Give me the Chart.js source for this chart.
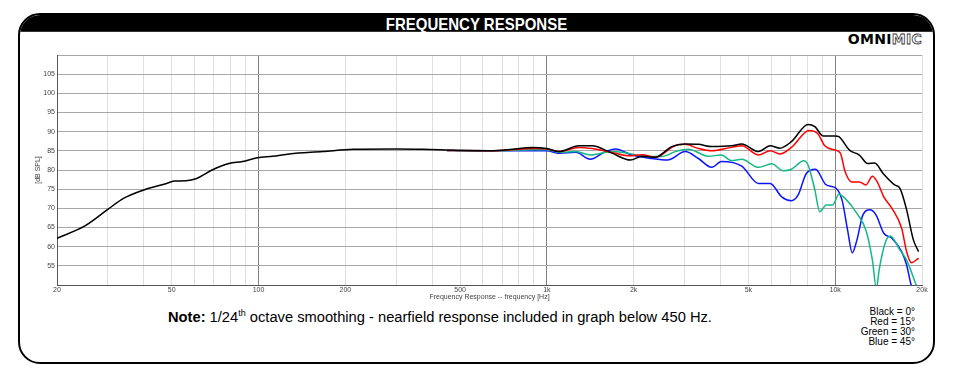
<!DOCTYPE html>
<html>
<head>
<meta charset="utf-8">
<script src="https://cdn.jsdelivr.net/npm/chart.js@4.4.0/dist/chart.umd.min.js"></script>
<style>
  body { margin: 0; background: #fff; font-family: "Liberation Sans", Arial, sans-serif; }
  #wrap { position: relative; width: 962px; height: 387px; overflow: hidden; }
  #frame { position: absolute; left: 18px; top: 13px; width: 913px; height: 347px;
           border: 2px solid #000; border-radius: 22px; overflow: hidden; }
  #bar { position: absolute; left: 0; top: 0; right: 0; height: 16px; background: #000;
         color: #fff; text-align: center; font: bold 15px "Liberation Sans Narrow", "Liberation Sans", Arial, sans-serif;
         line-height: 17px; transform: scaleY(1.1); }
  #logo { position: absolute; right: 40px; top: 31px; font: bold 14px "DejaVu Sans", sans-serif; letter-spacing: 0.3px; }
  #logo .hollow { color: #fff; -webkit-text-stroke: 0.8px #333; }
  #note { position: absolute; left: 168px; top: 309px; font-size: 14.7px; color: #000; white-space: nowrap; }
  #note sup { font-size: 9px; vertical-align: 6px; line-height: 0; }
  #legend { position: absolute; right: 47px; top: 307px; font-size: 10px; line-height: 10px; text-align: right; color: #000; }
  canvas { position: absolute; left: 0; top: 0; }
</style>
</head>
<body>
<div id="wrap">
  <div id="frame"><div id="bar">FREQUENCY RESPONSE</div></div>
  <div id="logo">OMNI<span class="hollow">MIC</span></div>
  <div id="note"><b>Note:</b> 1/24<sup>th</sup> octave smoothing - nearfield response included in graph below 450 Hz.</div>
  <div id="legend">Black = 0°<br>Red = 15°<br>Green = 30°<br>Blue = 45°</div>
  <canvas id="frChart" width="962" height="387"></canvas>
</div>
<script>
// axis ticks
const xGridValues = [20, 30, 40, 50, 60, 70, 80, 90, 100, 200, 300, 400, 500, 600, 700, 800, 900,
  1000, 2000, 3000, 4000, 5000, 6000, 7000, 8000, 9000, 10000, 20000];
const xLabelValues = [20, 50, 100, 200, 500, 1000, 2000, 5000, 10000, 20000];
const xLabels = ['20', '50', '100', '200', '500', '1k', '2k', '5k', '10k', '20k'];
const xMajor = [100, 1000, 10000];

// Black = 0 deg
const blackFreq = [20, 25, 30, 34, 40, 48, 51, 56, 61, 69, 79, 88, 99, 112, 128, 167, 213, 300, 372, 488, 635,
  759, 890, 1000, 1100, 1290, 1434, 1680, 1948, 2140, 2375, 2710, 3020, 3355, 3730, 4370, 4740, 5420, 5950,
  6430, 7050, 8050, 8500, 9080, 10000, 10300, 11200, 12130, 12970, 13700, 14660, 16080, 16770, 17690, 18680, 19470];
const blackDb = [62.2, 65.4, 69.7, 72.6, 74.8, 76.5, 77.1, 77.2, 77.8, 80.0, 81.7, 82.2, 83.2, 83.6, 84.2, 84.8,
  85.4, 85.5, 85.4, 85.1, 85.0, 85.4, 85.9, 85.6, 84.8, 86.3, 86.3, 84.4, 82.6, 83.6, 83.3, 86.1, 86.8, 86.7,
  86.1, 86.3, 86.8, 84.8, 86.3, 85.7, 87.4, 91.9, 91.3, 88.9, 88.9, 88.7, 85.2, 83.9, 81.7, 81.8, 79.1, 76.1,
  75.2, 69.6, 61.7, 58.7];

// Red = 15 deg
const redFreq = [450, 635, 759, 890, 1000, 1100, 1290, 1434, 1680, 1920, 2140, 2375, 2790, 3020, 3355, 3730,
  4370, 4740, 5420, 5950, 6430, 7050, 8120, 8720, 9200, 10000, 10420, 10820, 11400, 12130, 12780, 13460, 13990,
  14740, 15730, 17000, 17690, 18370, 19470];
const redDb = [85.1, 85.0, 85.3, 85.6, 85.5, 84.8, 85.9, 85.6, 84.6, 83.7, 84.0, 83.3, 86.4, 86.7, 85.6, 85.0,
  85.9, 86.3, 83.9, 85.0, 84.2, 85.9, 90.3, 89.4, 86.3, 85.2, 84.4, 79.6, 76.9, 76.9, 76.1, 78.4, 76.9, 73.0,
  70.0, 64.8, 58.7, 55.8, 57.0];

// Green = 30 deg
const greenFreq = [450, 635, 759, 890, 1000, 1100, 1260, 1415, 1680, 1970, 2190, 2500, 2790, 3100, 3630, 4030,
  4370, 4740, 5420, 6020, 6600, 7050, 7780, 8050, 8500, 8840, 9310, 9800, 10300, 10820, 11890, 12780, 13460,
  13900, 14200, 14950, 15530, 16770, 17690, 19000, 19500];
const greenDb = [85.1, 85.0, 85.1, 85.3, 85.3, 84.6, 84.8, 83.9, 84.8, 84.2, 83.5, 83.5, 84.8, 85.4, 83.6, 83.9,
  82.4, 82.8, 80.7, 81.6, 79.8, 80.2, 82.4, 81.3, 74.8, 69.1, 70.9, 70.9, 73.7, 72.6, 68.7, 64.3, 56.5, 49.0,
  53.9, 61.3, 62.8, 59.1, 56.5, 50.4, 48.0];

// Blue = 45 deg
const blueFreq = [450, 635, 759, 890, 1000, 1100, 1260, 1415, 1595, 1730, 1970, 2310, 2620, 3020, 3355, 3730,
  4030, 4740, 5420, 5950, 6520, 7050, 7440, 7940, 8540, 9310, 10000, 10560, 11040, 11460, 11890, 12480, 13180,
  13850, 14740, 15730, 17000, 17690, 18280, 18700];
const blueDb = [85.1, 85.0, 85.0, 85.0, 85.0, 84.4, 84.6, 82.8, 84.8, 85.5, 83.9, 83.0, 82.6, 84.8, 83.0, 80.7,
  82.2, 81.0, 76.5, 76.5, 73.0, 72.0, 73.5, 79.1, 80.2, 76.1, 75.4, 72.2, 64.3, 58.4, 61.7, 68.3, 69.6, 68.3,
  63.5, 62.2, 58.7, 55.2, 50.4, 48.0];

function pts(fs, ds) { return fs.map((f, i) => ({ x: f, y: ds[i] })); }
function series(label, fs, ds, color) {
  return { label, data: pts(fs, ds), borderColor: color, borderWidth: 1.5, pointRadius: 0,
           fill: false, cubicInterpolationMode: 'monotone' };
}

const tickFont = { family: '"Liberation Sans", Arial, sans-serif', size: 7 };

new Chart(document.getElementById('frChart'), {
  type: 'line',
  data: {
    datasets: [
      series('Black = 0°', blackFreq, blackDb, '#000000'),
      series('Red = 15°', redFreq, redDb, '#ff0000'),
      series('Green = 30°', greenFreq, greenDb, '#14b889'),
      series('Blue = 45°', blueFreq, blueDb, '#0a14ff')
    ]
  },
  options: {
    responsive: false,
    animation: false,
    layout: { padding: { left: 30, top: 55, right: 40, bottom: 82 } },
    plugins: { legend: { display: false }, tooltip: { enabled: false } },
    scales: {
      x: {
        type: 'logarithmic', min: 20, max: 20000,
        afterBuildTicks: s => { s.ticks = xGridValues.map(v => ({ value: v })); },
        afterFit: s => { s.height = 20; },
        grid: {
          drawTicks: false,
          color: c => xMajor.includes(c.tick && c.tick.value) ? '#808080' : '#dedede',
          lineWidth: 1
        },
        border: { color: '#555' },
        ticks: {
          autoSkip: false, maxRotation: 0, padding: 1, color: '#444', font: tickFont,
          callback: v => { const i = xLabelValues.indexOf(v); return i >= 0 ? xLabels[i] : ''; }
        },
        title: { display: true, text: 'Frequency Response -- frequency [Hz]', color: '#444', font: tickFont,
                 padding: { top: 0, bottom: 4 } }
      },
      y: {
        min: 50, max: 110,
        afterFit: s => { s.width = 27; },
        grid: { drawTicks: false, color: '#a8a8a8' },
        border: { color: '#555' },
        ticks: {
          stepSize: 5, padding: 2, color: '#444', font: tickFont,
          callback: v => (v > 50 && v < 110) ? String(v) : ''
        },
        title: { display: true, text: '[dB SPL]', color: '#444', font: tickFont, padding: { top: 4, bottom: 0 } }
      }
    }
  }
});
</script>
</body>
</html>
